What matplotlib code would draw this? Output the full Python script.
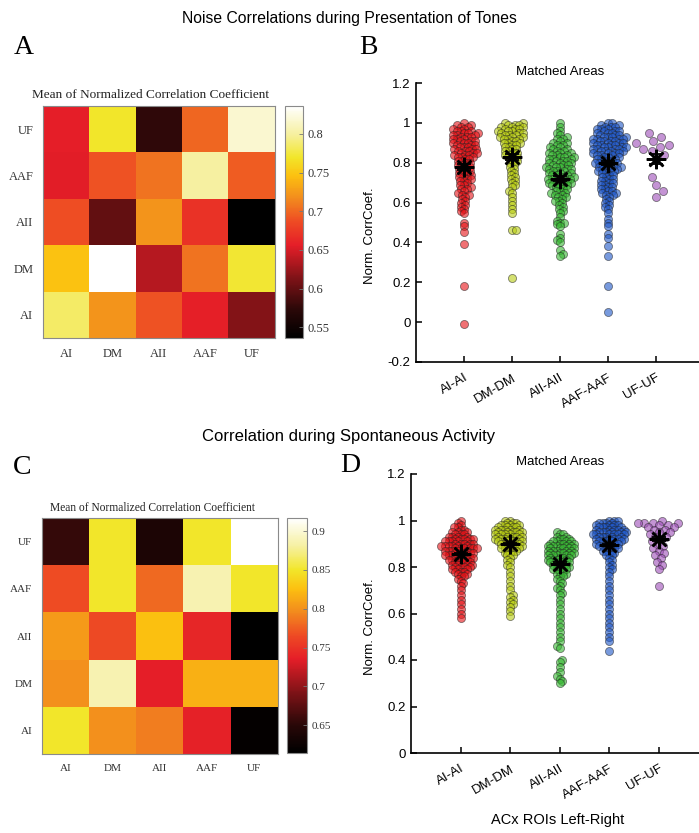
import numpy as np
import matplotlib
matplotlib.use('Agg')
import matplotlib.pyplot as plt
from matplotlib.colors import LinearSegmentedColormap

W, H = 699, 833

areas = ['AI', 'DM', 'AII', 'AAF', 'UF']
pairs = ['AI-AI', 'DM-DM', 'AII-AII', 'AAF-AAF', 'UF-UF']

# mean normalized corr. coef, rows AI (bottom) .. UF (top), cols AI .. UF
tone_mat = [
    [0.785, 0.722, 0.690, 0.657, 0.615],
    [0.748, 0.836, 0.636, 0.705, 0.772],
    [0.688, 0.600, 0.722, 0.670, 0.536],
    [0.655, 0.690, 0.705, 0.800, 0.695],
    [0.656, 0.770, 0.575, 0.700, 0.818],
]
spont_mat = [
    [0.850, 0.799, 0.790, 0.738, 0.618],
    [0.799, 0.887, 0.735, 0.817, 0.817],
    [0.805, 0.765, 0.826, 0.741, 0.614],
    [0.766, 0.850, 0.780, 0.887, 0.850],
    [0.656, 0.850, 0.640, 0.850, 0.917],
]
tone_cbar_ticks = [0.55, 0.6, 0.65, 0.7, 0.75, 0.8]
spont_cbar_ticks = [0.65, 0.7, 0.75, 0.8, 0.85, 0.9]

# swarm data: (value in hundredths, number of points at that value)
tone_ai = [(100, 1), (99, 2), (98, 2), (97, 2), (96, 3), (95, 3), (94, 3), (93, 3), (92, 3), (91, 3),
           (90, 3), (89, 3), (88, 3), (87, 3), (86, 3), (85, 3), (84, 3), (83, 3), (82, 2), (81, 2),
           (80, 2), (79, 2), (78, 2), (77, 2), (76, 2), (75, 2), (74, 2), (73, 2), (72, 2), (71, 2),
           (70, 1), (69, 2), (68, 1), (67, 2), (66, 1), (65, 1), (64, 2), (63, 1), (62, 1), (61, 1),
           (60, 1), (59, 1), (58, 1), (57, 1), (56, 1), (55, 1), (50, 1), (48, 1), (45, 1), (39, 1),
           (18, 1), (-1, 1)]
tone_dm = [(100, 2), (99, 3), (98, 3), (97, 3), (96, 3), (95, 3), (94, 3), (93, 3), (92, 3), (91, 2),
           (90, 3), (89, 2), (88, 2), (87, 2), (86, 2), (85, 2), (84, 2), (83, 2), (82, 1), (81, 2),
           (80, 1), (79, 1), (78, 1), (77, 1), (76, 1), (75, 1), (74, 1), (73, 1), (72, 1), (71, 1),
           (70, 1), (69, 1), (68, 1), (66, 1), (65, 1), (63, 1), (61, 1), (59, 1), (57, 1), (55, 1),
           (46, 2), (22, 1)]
tone_aii = [(100, 1), (98, 1), (96, 1), (95, 1), (94, 1), (93, 1), (92, 2), (91, 1), (90, 2), (89, 2),
            (88, 2), (87, 2), (86, 2), (85, 3), (84, 3), (83, 3), (82, 3), (81, 3), (80, 3), (79, 3),
            (78, 3), (77, 3), (76, 3), (75, 3), (74, 3), (73, 3), (72, 3), (71, 3), (70, 3), (69, 3),
            (68, 2), (67, 2), (66, 2), (65, 2), (64, 2), (63, 2), (62, 1), (61, 2), (60, 1), (59, 1),
            (58, 1), (57, 1), (56, 1), (55, 1), (53, 1), (51, 1), (50, 2), (49, 1), (48, 1), (44, 1),
            (42, 1), (41, 1), (40, 1), (36, 1), (34, 1), (33, 1)]
tone_aaf = [(100, 2), (99, 2), (98, 3), (97, 3), (96, 3), (95, 3), (94, 3), (93, 4), (92, 4), (91, 4),
            (90, 4), (89, 4), (88, 4), (87, 4), (86, 4), (85, 4), (84, 3), (83, 3), (82, 3), (81, 3),
            (80, 3), (79, 3), (78, 3), (77, 3), (76, 3), (75, 2), (74, 2), (73, 2), (72, 2), (71, 2),
            (70, 2), (69, 2), (68, 2), (67, 2), (66, 2), (65, 2), (64, 2), (63, 1), (62, 1), (61, 1),
            (60, 1), (59, 1), (58, 1), (57, 1), (55, 1), (52, 1), (50, 1), (48, 1), (44, 1), (42, 1),
            (38, 1), (33, 1), (18, 1), (5, 1)]
tone_uf = [(95, 1), (93, 1), (91, 1), (90, 1), (89, 1), (88, 1), (87, 1), (86, 1), (84, 1), (82, 1),
           (73, 1), (69, 1), (66, 1), (63, 1)]

spont_ai = [(100, 1), (99, 1), (98, 1), (97, 2), (96, 2), (95, 3), (94, 3), (93, 4), (92, 5), (91, 5),
            (90, 5), (89, 6), (88, 6), (87, 5), (86, 5), (85, 5), (84, 5), (83, 4), (82, 4), (81, 4),
            (80, 4), (79, 3), (78, 3), (77, 2), (76, 2), (75, 1), (74, 1), (73, 1), (72, 1), (70, 1),
            (68, 1), (66, 1), (64, 1), (62, 1), (60, 1), (58, 1)]
spont_dm = [(100, 2), (99, 3), (98, 4), (97, 4), (96, 5), (95, 5), (94, 5), (93, 5), (92, 5), (91, 5),
            (90, 4), (89, 4), (88, 4), (87, 3), (86, 2), (85, 2), (84, 1), (83, 1), (82, 1), (81, 1),
            (80, 1), (78, 1), (76, 1), (74, 1), (72, 1), (70, 1), (68, 1), (67, 1), (66, 1), (65, 1),
            (64, 1), (63, 1), (61, 1), (59, 1)]
spont_aii = [(95, 1), (94, 2), (93, 2), (92, 3), (91, 4), (90, 5), (89, 5), (88, 5), (87, 5), (86, 5),
             (85, 5), (84, 4), (83, 4), (82, 4), (81, 3), (80, 3), (79, 3), (78, 2), (77, 2), (76, 2),
             (75, 1), (74, 1), (73, 1), (72, 1), (71, 1), (70, 1), (69, 1), (68, 1), (66, 1), (64, 1),
             (62, 1), (60, 1), (58, 1), (56, 1), (54, 1), (52, 1), (50, 1), (48, 1), (46, 1), (45, 1),
             (40, 1), (39, 1), (37, 1), (35, 1), (33, 1), (32, 1), (31, 1), (30, 1)]
spont_aaf = [(100, 3), (99, 4), (98, 4), (97, 5), (96, 5), (95, 6), (94, 6), (93, 5), (92, 5), (91, 5),
             (90, 4), (89, 4), (88, 3), (87, 3), (86, 2), (85, 2), (84, 1), (83, 1), (82, 1), (81, 1),
             (80, 1), (79, 1), (78, 1), (76, 1), (74, 1), (72, 1), (70, 1), (68, 1), (66, 1), (64, 1),
             (62, 1), (60, 1), (58, 1), (56, 1), (54, 1), (52, 1), (50, 1), (48, 1), (44, 1)]
spont_uf = [(100, 1), (99, 4), (98, 2), (97, 2), (96, 2), (95, 2), (94, 1), (93, 2), (92, 1), (91, 1),
            (90, 1), (89, 1), (88, 1), (87, 1), (86, 1), (85, 1), (84, 1), (82, 1), (81, 1), (79, 1),
            (72, 1)]

tone_means = [0.78, 0.83, 0.72, 0.80, 0.82]
tone_sem = [0.015, 0.015, 0.013, 0.010, 0.025]
spont_means = [0.855, 0.90, 0.815, 0.895, 0.92]
spont_sem = [0.005, 0.005, 0.006, 0.005, 0.01]

pair_colors = [(0.90, 0.07, 0.09), (0.72, 0.80, 0.07), (0.22, 0.72, 0.20),
               (0.12, 0.34, 0.78), (0.62, 0.30, 0.72)]

hot_like = LinearSegmentedColormap.from_list('hotlike', [
    (0.0, '#000000'), (0.12, '#2a0808'), (0.25, '#7a1216'), (0.40, '#e51e28'),
    (0.50, '#ee4a24'), (0.60, '#f28a1e'), (0.70, '#fcc010'), (0.78, '#f2e62a'),
    (0.88, '#f6f0a0'), (1.0, '#ffffff')])


def fbox(l, t, r, b):
    return [l / W, 1 - b / H, (r - l) / W, (b - t) / H]


def swarm(y_px, d):
    order = np.argsort(y_px, kind='stable')
    xs = np.zeros(len(y_px))
    px, py = [], []
    flip = 1
    for i in order:
        y = y_px[i]
        best = 0.0
        if px:
            ax_ = np.array(px)
            ay_ = np.array(py)
            near = np.abs(ay_ - y) < d
            if near.any():
                nx = ax_[near]
                half = np.sqrt(d * d - (ay_[near] - y) ** 2)
                lo, hi = nx - half, nx + half
                cands = np.concatenate([[0.0], lo, hi])
                ok = [c for c in cands if not np.any((c > lo + 1e-6) & (c < hi - 1e-6))]
                best = min(ok, key=lambda c: (round(abs(c), 4), -flip * c))
                if best != 0:
                    flip = -flip
        xs[i] = best
        px.append(best)
        py.append(y)
    return xs


def heat(box, cbox, mat, ticks, title, title_xy, tfs, lfs):
    ax = fig.add_axes(fbox(*box))
    mat = np.array(mat)
    im = ax.imshow(mat, cmap=hot_like, origin='lower', aspect='auto',
                   vmin=mat.min(), vmax=mat.max(), interpolation='nearest')
    ax.set_xticks(range(5))
    ax.set_yticks(range(5))
    ax.set_xticklabels(areas, family='Liberation Serif', fontsize=lfs, color='#333333')
    ax.set_yticklabels(areas, family='Liberation Serif', fontsize=lfs, color='#333333')
    ax.tick_params(length=0, pad=7)
    for s in ax.spines.values():
        s.set_color('#8a8a8a')
        s.set_linewidth(0.8)
    fig.text(title_xy[0] / W, 1 - title_xy[1] / H, title, family='Liberation Serif',
             fontsize=tfs, color='#222222', ha='center', va='center')
    cax = fig.add_axes(fbox(*cbox))
    cb = fig.colorbar(im, cax=cax)
    cb.set_ticks(ticks)
    cb.set_ticklabels([('%g' % t) for t in ticks])
    cb.outline.set_edgecolor('#8a8a8a')
    cb.outline.set_linewidth(0.8)
    cax.tick_params(direction='in', length=3, width=0.6, color='#777777', pad=3)
    for lab in cax.get_yticklabels():
        lab.set_family('Liberation Serif')
        lab.set_fontsize(lfs)
        lab.set_color('#333333')


def swarm_panel(box, groups, means, sems, ylim, yticks, ytlabels, ppx, d_main, uf_d):
    ax = fig.add_axes(fbox(*box))
    ax.set_xlim(0, 6)
    ax.set_ylim(*ylim)
    py_unit = (box[3] - box[1]) / (ylim[1] - ylim[0])
    for k, grp in enumerate(groups):
        vals = np.repeat([v / 100 for v, c in grp], [c for v, c in grp])
        d = uf_d if k == 4 else d_main
        off = swarm(vals * py_unit, d) / ppx
        col = pair_colors[k]
        ax.scatter(k + 1 + off, vals, s=34, facecolor=col + (0.6,),
                   edgecolor=(0.12, 0.12, 0.12, 0.55), linewidths=0.6, zorder=3)
        ax.errorbar(k + 1, means[k], yerr=sems[k], color='k', capsize=5, elinewidth=1.3,
                    capthick=1.3, zorder=5)
        ax.plot(k + 1, means[k], marker=(8, 2, 0), ms=14, mew=1.8, color='k', zorder=6)
    ax.spines['top'].set_visible(False)
    ax.spines['right'].set_visible(False)
    for s in ('left', 'bottom'):
        ax.spines[s].set_linewidth(1.2)
    ax.set_yticks(yticks)
    ax.set_yticklabels(ytlabels, family='Liberation Sans', fontsize=9.5)
    ax.set_xticks(range(1, 6))
    ax.set_xticklabels(pairs, family='Liberation Sans', fontsize=9.5, rotation=30,
                       ha='right', va='top', rotation_mode='anchor')
    ax.tick_params(direction='in', length=4, width=1.1, pad=4)
    ax.tick_params(axis='x', pad=7)
    return ax


fig = plt.figure(figsize=(W / 100, H / 100), dpi=100)

fig.text(349 / W, 1 - 18 / H, 'Noise Correlations during Presentation of Tones',
         family='Liberation Sans', fontsize=11.3, ha='center', va='center')
fig.text(349 / W, 1 - 437 / H, 'Correlation during Spontaneous Activity',
         family='Liberation Sans', fontsize=12, ha='center', va='center')
for lab, x, y in [('A', 24, 48), ('B', 368, 48), ('C', 22, 468), ('D', 350, 466)]:
    fig.text(x / W, 1 - y / H, lab, family='Liberation Serif', fontsize=20,
             ha='center', va='center')

heat((43, 106, 275, 338), (285, 106, 303, 338), tone_mat, tone_cbar_ticks,
     'Mean of Normalized Correlation Coefficient', (150, 95), 9.5, 9)
heat((42, 518, 278, 754), (287, 518, 307, 753), spont_mat, spont_cbar_ticks,
     'Mean of Normalized Correlation Coefficient', (152, 508), 8.3, 8)

axb = swarm_panel((416, 83, 704, 362), [tone_ai, tone_dm, tone_aii, tone_aaf, tone_uf],
                  tone_means, tone_sem, (-0.2, 1.2), [-0.2, 0, 0.2, 0.4, 0.6, 0.8, 1, 1.2],
                  ['-0.2', '0', '0.2', '0.4', '0.6', '0.8', '1', '1.2'], 48.0, 4.0, 9.0)
axd = swarm_panel((411, 474, 708, 753), [spont_ai, spont_dm, spont_aii, spont_aaf, spont_uf],
                  spont_means, spont_sem, (0, 1.2), [0, 0.2, 0.4, 0.6, 0.8, 1, 1.2],
                  ['0', '0.2', '0.4', '0.6', '0.8', '1', '1.2'], 49.5, 3.6, 6.0)

fig.text(560 / W, 1 - 72 / H, 'Matched Areas', family='Liberation Sans', fontsize=9.5,
         ha='center', va='center')
fig.text(560 / W, 1 - 462 / H, 'Matched Areas', family='Liberation Sans', fontsize=9.5,
         ha='center', va='center')
fig.text(370 / W, 1 - 236 / H, 'Norm. CorrCoef.', family='Liberation Sans', fontsize=9.5,
         ha='center', va='center', rotation=90)
fig.text(370 / W, 1 - 627 / H, 'Norm. CorrCoef.', family='Liberation Sans', fontsize=9.5,
         ha='center', va='center', rotation=90)
fig.text(558 / W, 1 - 820 / H, 'ACx ROIs Left-Right', family='Liberation Sans',
         fontsize=10.5, ha='center', va='center')

fig.savefig('out.png', dpi=100)
